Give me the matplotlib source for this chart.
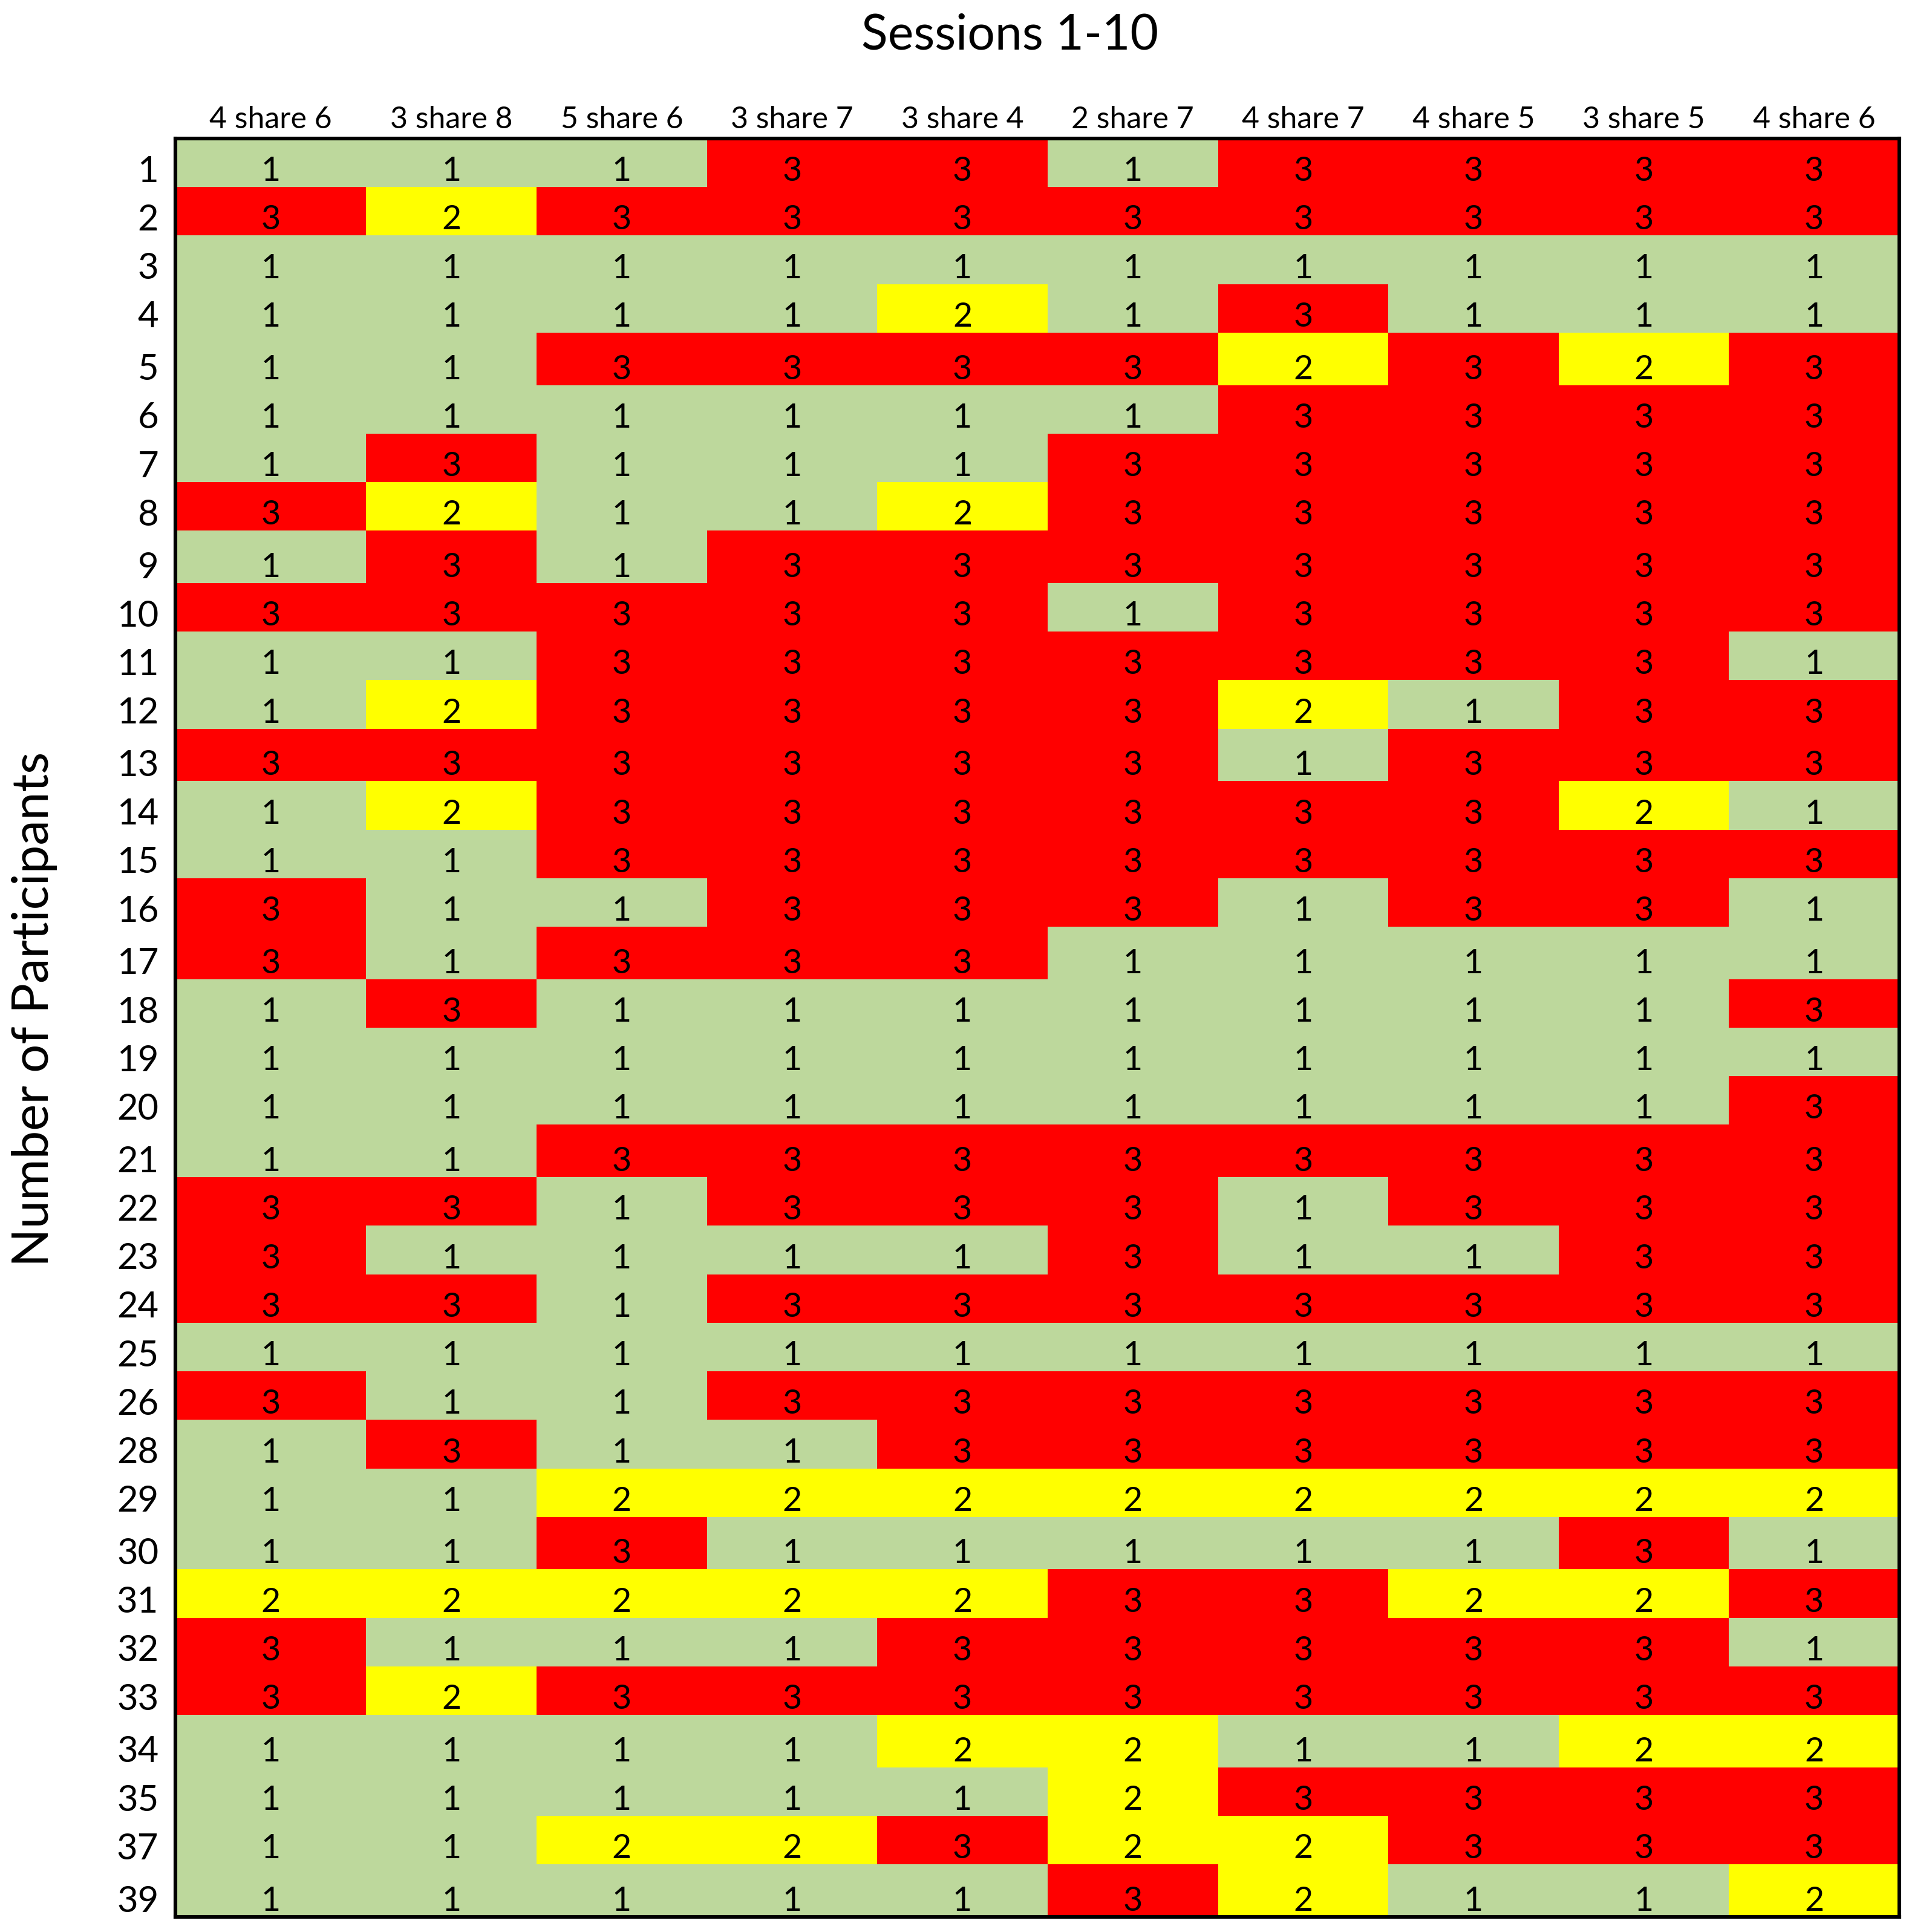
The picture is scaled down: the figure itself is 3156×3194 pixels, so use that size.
import numpy as np
import matplotlib.pyplot as plt
from matplotlib.colors import ListedColormap, BoundaryNorm

plt.rcParams['font.family'] = ['Lato', 'DejaVu Sans']

participants = [1, 2, 3, 4, 5, 6, 7, 8, 9, 10, 11, 12, 13, 14, 15, 16, 17, 18,
                19, 20, 21, 22, 23, 24, 25, 26, 28, 29, 30, 31, 32, 33, 34, 35,
                37, 39]
sessions = ["4 share 6", "3 share 8", "5 share 6", "3 share 7", "3 share 4",
            "2 share 7", "4 share 7", "4 share 5", "3 share 5", "4 share 6"]

# 1 = green, 2 = yellow, 3 = red
scores = [
    [1, 1, 1, 3, 3, 1, 3, 3, 3, 3],
    [3, 2, 3, 3, 3, 3, 3, 3, 3, 3],
    [1, 1, 1, 1, 1, 1, 1, 1, 1, 1],
    [1, 1, 1, 1, 2, 1, 3, 1, 1, 1],
    [1, 1, 3, 3, 3, 3, 2, 3, 2, 3],
    [1, 1, 1, 1, 1, 1, 3, 3, 3, 3],
    [1, 3, 1, 1, 1, 3, 3, 3, 3, 3],
    [3, 2, 1, 1, 2, 3, 3, 3, 3, 3],
    [1, 3, 1, 3, 3, 3, 3, 3, 3, 3],
    [3, 3, 3, 3, 3, 1, 3, 3, 3, 3],
    [1, 1, 3, 3, 3, 3, 3, 3, 3, 1],
    [1, 2, 3, 3, 3, 3, 2, 1, 3, 3],
    [3, 3, 3, 3, 3, 3, 1, 3, 3, 3],
    [1, 2, 3, 3, 3, 3, 3, 3, 2, 1],
    [1, 1, 3, 3, 3, 3, 3, 3, 3, 3],
    [3, 1, 1, 3, 3, 3, 1, 3, 3, 1],
    [3, 1, 3, 3, 3, 1, 1, 1, 1, 1],
    [1, 3, 1, 1, 1, 1, 1, 1, 1, 3],
    [1, 1, 1, 1, 1, 1, 1, 1, 1, 1],
    [1, 1, 1, 1, 1, 1, 1, 1, 1, 3],
    [1, 1, 3, 3, 3, 3, 3, 3, 3, 3],
    [3, 3, 1, 3, 3, 3, 1, 3, 3, 3],
    [3, 1, 1, 1, 1, 3, 1, 1, 3, 3],
    [3, 3, 1, 3, 3, 3, 3, 3, 3, 3],
    [1, 1, 1, 1, 1, 1, 1, 1, 1, 1],
    [3, 1, 1, 3, 3, 3, 3, 3, 3, 3],
    [1, 3, 1, 1, 3, 3, 3, 3, 3, 3],
    [1, 1, 2, 2, 2, 2, 2, 2, 2, 2],
    [1, 1, 3, 1, 1, 1, 1, 1, 3, 1],
    [2, 2, 2, 2, 2, 3, 3, 2, 2, 3],
    [3, 1, 1, 1, 3, 3, 3, 3, 3, 1],
    [3, 2, 3, 3, 3, 3, 3, 3, 3, 3],
    [1, 1, 1, 1, 2, 2, 1, 1, 2, 2],
    [1, 1, 1, 1, 1, 2, 3, 3, 3, 3],
    [1, 1, 2, 2, 3, 2, 2, 3, 3, 3],
    [1, 1, 1, 1, 1, 3, 2, 1, 1, 2],
]

# spreadsheet-like row heights / column widths
tall_rows = {5, 9, 13, 17, 21, 30, 34, 39}
row_h = np.array([1.08 if p in tall_rows else 1.0 for p in participants])
col_w = np.array([1.12] + [1.0] * (len(sessions) - 1))
y_edges = np.concatenate([[0], np.cumsum(row_h)])
x_edges = np.concatenate([[0], np.cumsum(col_w)])

W, H, dpi = 3156, 3194, 200
fig = plt.figure(figsize=(W / dpi, H / dpi), dpi=dpi)
ax = fig.add_axes([290 / W, 1 - 3169 / H, 2850 / W, 2940 / H])

cmap = ListedColormap(['#BDD89C', '#FFFF00', '#FF0000'])
norm = BoundaryNorm([0.5, 1.5, 2.5, 3.5], cmap.N)
ax.pcolormesh(x_edges, y_edges, np.array(scores), cmap=cmap, norm=norm)
ax.set_xlim(0, x_edges[-1])
ax.set_ylim(y_edges[-1], 0)

# text sits near the bottom of each cell, like a spreadsheet
xc = (x_edges[:-1] + x_edges[1:]) / 2
yt = y_edges[1:] - 0.38
for i, row in enumerate(scores):
    for j, v in enumerate(row):
        ax.text(xc[j], yt[i], str(v), ha='center', va='center_baseline',
                fontsize=20, color='black')

ax.xaxis.tick_top()
ax.set_xticks(xc, sessions, fontsize=18)
ax.set_yticks(yt, [str(p) for p in participants], fontsize=21.5)
ax.tick_params(axis='x', length=0, pad=3)
ax.tick_params(axis='y', length=0, pad=10)
for lbl in ax.get_yticklabels():
    lbl.set_va('center_baseline')
for s in ax.spines.values():
    s.set_linewidth(2.2)

fig.text(1670 / W, 1 - 58 / H, "Sessions 1-10", ha='center', va='center',
         fontsize=29)
fig.text(57 / W, 1 - 1668 / H, "Number of Participants", ha='center',
         va='center', rotation=90, fontsize=30)

fig.savefig('out.png', dpi=dpi)
